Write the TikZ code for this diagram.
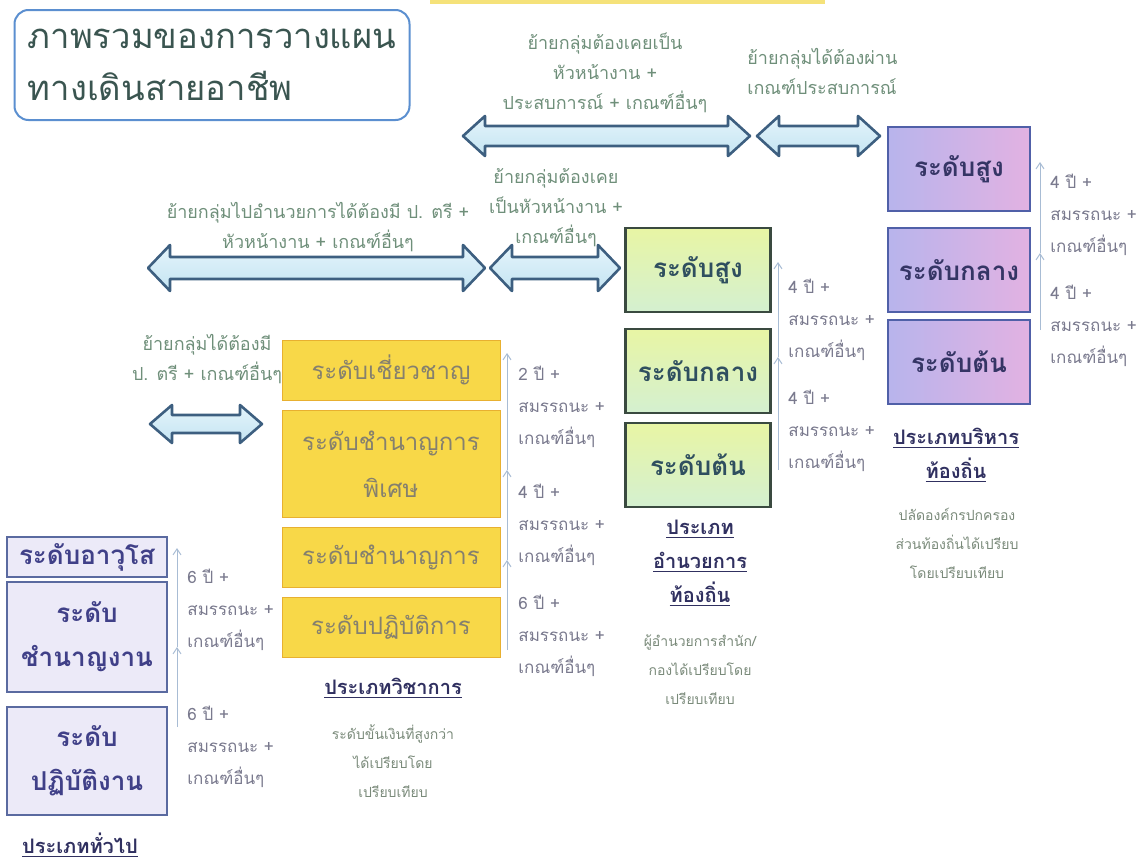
\documentclass[tikz,border=0pt]{standalone}
\usepackage{fontspec}
\usepackage{xcolor}
\usepackage{tikz}
\usetikzlibrary{arrows.meta}
\newfontfamily\thaifont[Script=Thai]{Loma}
\definecolor{titleline}{HTML}{5B8FD0}
\definecolor{titletext}{HTML}{3A5550}
\definecolor{arrowline}{HTML}{3D5F80}
\definecolor{arrowtop}{HTML}{E4F4FB}
\definecolor{arrowbot}{HTML}{C4E4F2}
\definecolor{movetext}{HTML}{6F8F7A}
\definecolor{steptext}{HTML}{7A7A8E}
\definecolor{stepline}{HTML}{A8BCD4}
\definecolor{genfill}{HTML}{ECEAF8}
\definecolor{genline}{HTML}{5A6AA0}
\definecolor{gentext}{HTML}{404088}
\definecolor{acadfill}{HTML}{F8D848}
\definecolor{acadline}{HTML}{E8B030}
\definecolor{acadtext}{HTML}{85806E}
\definecolor{dirtop}{HTML}{E8F5A4}
\definecolor{dirbot}{HTML}{D4F0D0}
\definecolor{dirline}{HTML}{3A4A40}
\definecolor{dirtext}{HTML}{2F4F5F}
\definecolor{mgrleft}{HTML}{B8B4EC}
\definecolor{mgrright}{HTML}{E2B2E2}
\definecolor{mgrline}{HTML}{5060A8}
\definecolor{mgrtext}{HTML}{353565}
\definecolor{cattext}{HTML}{303060}
\definecolor{notetext}{HTML}{7A8A7A}
\definecolor{stripyellow}{HTML}{F5E27A}

\begin{document}
\begin{tikzpicture}[x=0.5pt, y=-0.5pt,
    lvlbox/.style={draw, inner sep=2pt, align=center,
        font=\thaifont\bfseries\fontsize{13}{22}\selectfont},
    genbox/.style={lvlbox, fill=genfill, draw=genline, line width=0.8pt,
        text=gentext, minimum width=80pt},
    acadbox/.style={lvlbox, fill=acadfill, draw=acadline, line width=0.5pt,
        text=acadtext, minimum width=109pt, minimum height=30pt,
        font=\thaifont\fontsize{12}{23.5}\selectfont},
    dirbox/.style={lvlbox, top color=dirtop, bottom color=dirbot, draw=dirline,
        line width=1.2pt, text=dirtext, minimum width=72.5pt, minimum height=42pt},
    mgrbox/.style={lvlbox, left color=mgrleft, right color=mgrright, draw=mgrline,
        line width=1.2pt, text=mgrtext, minimum width=71pt, minimum height=42pt},
    steparrow/.style={draw=stepline, line width=0.5pt, -{Straight Barb[length=3pt,width=4pt]}},
    steplabel/.style={anchor=west, inner sep=0pt, align=left, text=steptext,
        font=\thaifont\fontsize{8.5}{16}\selectfont},
    movelabel/.style={inner sep=0pt, align=center, text=movetext,
        font=\thaifont\fontsize{9}{15}\selectfont},
    cattitle/.style={inner sep=0pt, align=center, text=cattext,
        font=\thaifont\bfseries\fontsize{10}{17}\selectfont},
    catnote/.style={inner sep=0pt, align=center, text=notetext,
        font=\thaifont\fontsize{7}{14.5}\selectfont},
    bigarrow/.style={draw=arrowline, line width=1.3pt, line join=round,
        top color=arrowtop, bottom color=arrowbot}]
    \useasboundingbox (0,0) rectangle (1146,862);

    % strip on the top edge
    \fill[stripyellow] (430,0) rectangle (825,4);

    % title
    \node[draw=titleline, line width=1pt, rounded corners=7pt, align=left,
        minimum width=197.5pt, minimum height=55pt, text=titletext,
        font=\thaifont\fontsize{17.3}{26}\selectfont] (title) at (212,65)
        {ภาพรวมของการวางแผน\\ทางเดินสายอาชีพ};

    % block arrows between the groups
    \foreach \xa/\xb/\yc/\hh/\hs in {463/750/136/20/10, 757/880/136/20/10,
        148/485/268/23/11, 490/620/268/23/11, 150/262/424/19/9}
        \draw[bigarrow] (\xa,\yc) -- ({\xa+22},{\yc-\hh}) -- ({\xa+22},{\yc-\hs})
            -- ({\xb-22},{\yc-\hs}) -- ({\xb-22},{\yc-\hh}) -- (\xb,\yc)
            -- ({\xb-22},{\yc+\hh}) -- ({\xb-22},{\yc+\hs}) -- ({\xa+22},{\yc+\hs})
            -- ({\xa+22},{\yc+\hh}) -- cycle;

    % texts of the block arrows
    \node[movelabel] (mvtopa) at (605,73) {ย้ายกลุ่มต้องเคยเป็น\\หัวหน้างาน +\\ประสบการณ์ + เกณฑ์อื่นๆ};
    \node[movelabel, align=left, anchor=west] (mvtopb) at (747,71) {ย้ายกลุ่มได้ต้องผ่าน\\เกณฑ์ประสบการณ์};
    \node[movelabel] (mvmida) at (318,227) {ย้ายกลุ่มไปอำนวยการได้ต้องมี ป. ตรี +\\หัวหน้างาน + เกณฑ์อื่นๆ};
    \node[movelabel] (mvmidb) at (556,208) {ย้ายกลุ่มต้องเคย\\เป็นหัวหน้างาน +\\เกณฑ์อื่นๆ};
    \node[movelabel] (mvleft) at (207,359) {ย้ายกลุ่มได้ต้องมี\\ป. ตรี + เกณฑ์อื่นๆ};

    % general group
    \node[genbox, minimum height=20pt] (gena) at (87,557) {ระดับอาวุโส};
    \node[genbox, minimum height=55pt] (genb) at (87,637) {ระดับ\\ชำนาญงาน};
    \node[genbox, minimum height=54pt] (genc) at (87,761) {ระดับ\\ปฏิบัติงาน};
    \coordinate (g0) at (177,727);
    \coordinate (g1) at (177,647);
    \coordinate (g2) at (177,548);
    \draw[steparrow] (g0) -- (g1);
    \draw[steparrow] (g1) -- (g2);
    \node[steplabel] (gsa) at (187,610) {6 ปี +\\สมรรถนะ +\\เกณฑ์อื่นๆ};
    \node[steplabel] (gsb) at (187,747) {6 ปี +\\สมรรถนะ +\\เกณฑ์อื่นๆ};
    \node[cattitle] (gencat) at (80,845) {\underline{ประเภททั่วไป}};

    % academic group
    \node[acadbox] (acada) at (391,370) {ระดับเชี่ยวชาญ};
    \node[acadbox, minimum height=53.5pt] (acadb) at (391,464) {ระดับชำนาญการ\\พิเศษ};
    \node[acadbox] (acadc) at (391,557) {ระดับชำนาญการ};
    \node[acadbox] (acadd) at (391,627) {ระดับปฏิบัติการ};
    \coordinate (a0) at (507,650);
    \coordinate (a1) at (507,560);
    \coordinate (a2) at (507,470);
    \coordinate (a3) at (507,353);
    \draw[steparrow] (a0) -- (a1);
    \draw[steparrow] (a1) -- (a2);
    \draw[steparrow] (a2) -- (a3);
    \node[steplabel] (asa) at (518,407) {2 ปี +\\สมรรถนะ +\\เกณฑ์อื่นๆ};
    \node[steplabel] (asb) at (518,525) {4 ปี +\\สมรรถนะ +\\เกณฑ์อื่นๆ};
    \node[steplabel] (asc) at (518,636) {6 ปี +\\สมรรถนะ +\\เกณฑ์อื่นๆ};
    \node[cattitle] (acadcat) at (393,688) {\underline{ประเภทวิชาการ}};
    \node[catnote] (acadnote) at (393,761) {ระดับขั้นเงินที่สูงกว่า\\ได้เปรียบโดย\\เปรียบเทียบ};

    % director group
    \node[dirbox] (dira) at (698,270) {ระดับสูง};
    \node[dirbox] (dirb) at (698,371) {ระดับกลาง};
    \node[dirbox] (dirc) at (698,465) {ระดับต้น};
    \coordinate (d0) at (778,470);
    \coordinate (d1) at (778,357);
    \coordinate (d2) at (778,262);
    \draw[steparrow] (d0) -- (d1);
    \draw[steparrow] (d1) -- (d2);
    \node[steplabel] (dsa) at (788,320) {4 ปี +\\สมรรถนะ +\\เกณฑ์อื่นๆ};
    \node[steplabel] (dsb) at (788,431) {4 ปี +\\สมรรถนะ +\\เกณฑ์อื่นๆ};
    \node[cattitle] (dircat) at (700,563) {\underline{ประเภท}\\\underline{อำนวยการ}\\\underline{ท้องถิ่น}};
    \node[catnote] (dirnote) at (700,670) {ผู้อำนวยการสำนัก/\\กองได้เปรียบโดย\\เปรียบเทียบ};

    % manager group
    \node[mgrbox] (mgra) at (959,169) {ระดับสูง};
    \node[mgrbox] (mgrb) at (959,270) {ระดับกลาง};
    \node[mgrbox] (mgrc) at (959,362) {ระดับต้น};
    \coordinate (m0) at (1040,330);
    \coordinate (m1) at (1040,253);
    \coordinate (m2) at (1040,162);
    \draw[steparrow] (m0) -- (m1);
    \draw[steparrow] (m1) -- (m2);
    \node[steplabel] (msa) at (1050,215) {4 ปี +\\สมรรถนะ +\\เกณฑ์อื่นๆ};
    \node[steplabel] (msb) at (1050,326) {4 ปี +\\สมรรถนะ +\\เกณฑ์อื่นๆ};
    \node[cattitle] (mgrcat) at (956,455) {\underline{ประเภทบริหาร}\\\underline{ท้องถิ่น}};
    \node[catnote] (mgrnote) at (957,543) {ปลัดองค์กรปกครอง\\ส่วนท้องถิ่นได้เปรียบ\\โดยเปรียบเทียบ};
\end{tikzpicture}
\end{document}
